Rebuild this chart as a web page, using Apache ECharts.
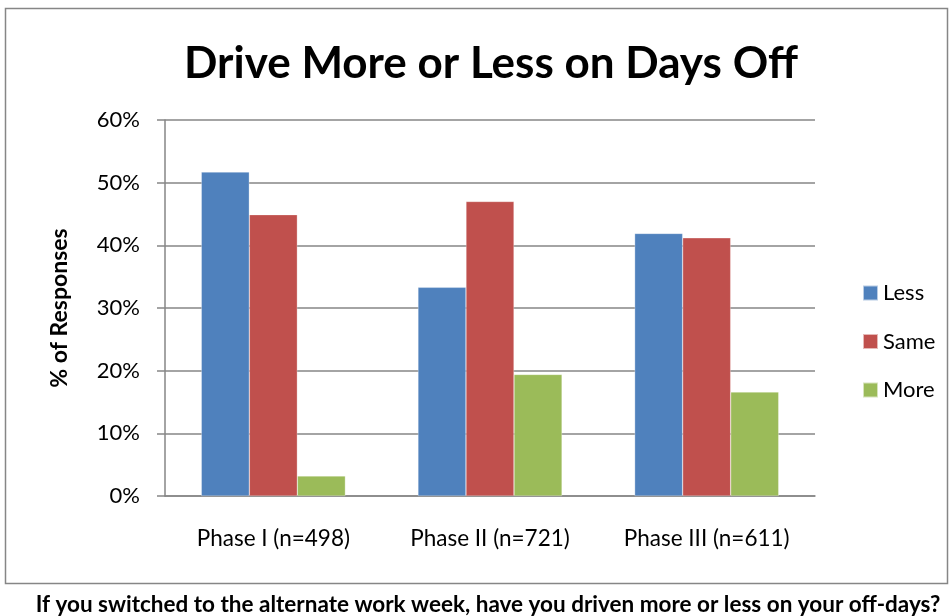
<!DOCTYPE html>
<html>
<head>
<meta charset="utf-8">
<script src="https://cdn.jsdelivr.net/npm/echarts@6/dist/echarts.min.js"></script>
<style>
  html, body { margin: 0; padding: 0; background: #fff; }
  #main { width: 950px; height: 616px; }
</style>
</head>
<body>
<div id="main"></div>
<script>
  // data
  var categories = ['Phase I (n=498)', 'Phase II (n=721)', 'Phase III (n=611)'];
  var lessValues = [51.7, 33.3, 41.9];
  var sameValues = [44.9, 47.0, 41.2];
  var moreValues = [3.2, 19.4, 16.6];
  var seriesNames = ['Less', 'Same', 'More'];

  var font = 'Lato, "Open Sans", sans-serif';
  var colors = ['#4f81bd', '#c0504d', '#9bbb59'];

  var chart = echarts.init(document.getElementById('main'));

  function bar(name, data) {
    return {
      name: name,
      type: 'bar',
      data: data,
      barGap: 0,
      barCategoryGap: '33.5%',
      itemStyle: { borderColor: 'rgba(255,255,255,0.6)', borderWidth: 0.5 }
    };
  }

  var option = {
    animation: false,
    color: colors,
    textStyle: { fontFamily: font },
    graphic: [
      {
        type: 'rect',
        shape: { x: 5.5, y: 8.5, width: 942, height: 575 },
        style: { fill: 'none', stroke: '#868686', lineWidth: 1.5 }
      },
      {
        type: 'text',
        x: 488,
        y: 593,
        style: {
          text: 'If you switched to the alternate work week, have you driven more or less on your off-days?',
          font: 'bold 22.5px ' + font,
          fill: '#000',
          align: 'center',
          verticalAlign: 'top'
        }
      }
    ],
    title: {
      text: 'Drive More or Less on Days Off',
      left: 486,
      textAlign: 'center',
      top: 37,
      textStyle: { fontFamily: font, fontSize: 44, fontWeight: 'bold', color: '#000' }
    },
    legend: {
      data: seriesNames,
      orient: 'vertical',
      left: 857,
      top: 276,
      itemWidth: 15,
      itemHeight: 15,
      itemGap: 24.5,
      icon: 'rect',
      textStyle: { fontFamily: font, fontSize: 22, lineHeight: 24, color: '#000' }
    },
    grid: { left: 165, right: 135, top: 120, bottom: 120 },
    xAxis: {
      type: 'category',
      data: categories,
      axisLine: { lineStyle: { color: '#868686', width: 1.5 } },
      axisTick: { show: false },
      axisLabel: { interval: 0, hideOverlap: false, color: '#000', fontSize: 22.5, fontFamily: font, margin: 31 }
    },
    yAxis: {
      type: 'value',
      min: 0,
      max: 60,
      interval: 10,
      name: '% of Responses',
      nameLocation: 'middle',
      nameGap: 94,
      nameTextStyle: { fontFamily: font, fontSize: 23, fontWeight: 'bold', color: '#000' },
      axisLine: { show: true, lineStyle: { color: '#868686', width: 1.5 } },
      axisTick: { show: true, length: 8, lineStyle: { color: '#868686', width: 1.5 } },
      splitLine: { lineStyle: { color: '#868686', width: 1.5 } },
      axisLabel: { color: '#000', fontSize: 22, fontFamily: font, margin: 25, formatter: '{value}%' }
    },
    series: [
      bar(seriesNames[0], lessValues),
      bar(seriesNames[1], sameValues),
      bar(seriesNames[2], moreValues)
    ]
  };

  chart.setOption(option);
</script>
</body>
</html>
